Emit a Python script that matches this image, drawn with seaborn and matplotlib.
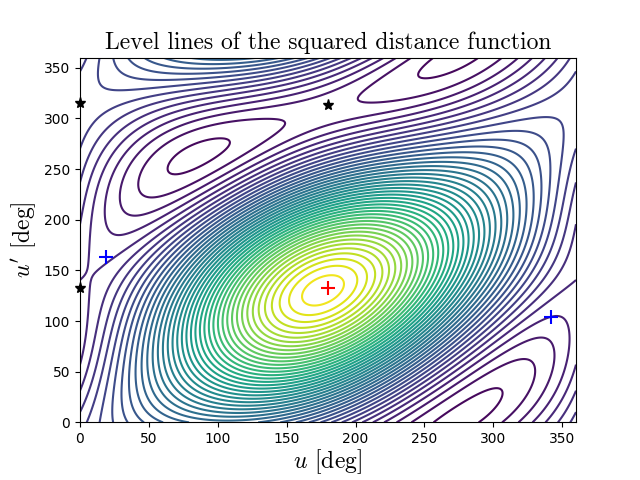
import numpy as np
import matplotlib
matplotlib.use("Agg")
import matplotlib.pyplot as plt
import seaborn as sns

plt.rcParams["mathtext.fontset"] = "cm"

# orbital elements (two confocal ellipses) and anomaly offsets
a1, e1 = 1.0, 0.45
a2, e2 = 1.15, 0.35
omega2_deg = 212.0
inc_deg = 25.0
du_deg, dv_deg = 15.0, 32.0

crit_max = [(180, 133)]
crit_min = [(19, 163), (342, 104)]
crit_saddle = [(0, 133), (0, 315), (180, 313)]

grid = np.linspace(0, 360, 361)
G1, G2 = np.meshgrid(grid, grid)
U = np.radians(G1 + du_deg); V = np.radians(G2 + dv_deg)
x1 = a1 * (np.cos(U) - e1); y1 = a1 * np.sqrt(1 - e1**2) * np.sin(U)
xp = a2 * (np.cos(V) - e2); yp = a2 * np.sqrt(1 - e2**2) * np.sin(V)
w = np.radians(omega2_deg); i = np.radians(inc_deg)
x2 = xp * np.cos(w) - yp * np.sin(w)
y2r = xp * np.sin(w) + yp * np.cos(w)
D2 = (x1 - x2)**2 + (y1 - y2r * np.cos(i))**2 + (y2r * np.sin(i))**2

fig, ax = plt.subplots(figsize=(6.4, 4.8), dpi=100)
fig.subplots_adjust(bottom=0.12)
ax.contour(G1, G2, D2, levels=45, cmap="viridis", linewidths=1.5)
ax.plot(*zip(*crit_max), "r+", ms=10, mew=1.5)
ax.plot(*zip(*crit_min), "b+", ms=10, mew=1.5)
ax.plot(*zip(*crit_saddle), "k*", ms=8, clip_on=False)
ax.set_xlim(0, 360); ax.set_ylim(0, 360)
ax.set_title("Level lines of the squared distance function", fontsize=17, fontname="cmr10")
ax.set_xlabel(r"$u$ [deg]", fontsize=17, fontname="cmr10", labelpad=1)
ax.set_ylabel(r"$u'$ [deg]", fontsize=17, fontname="cmr10")
fig.savefig("out.png")
